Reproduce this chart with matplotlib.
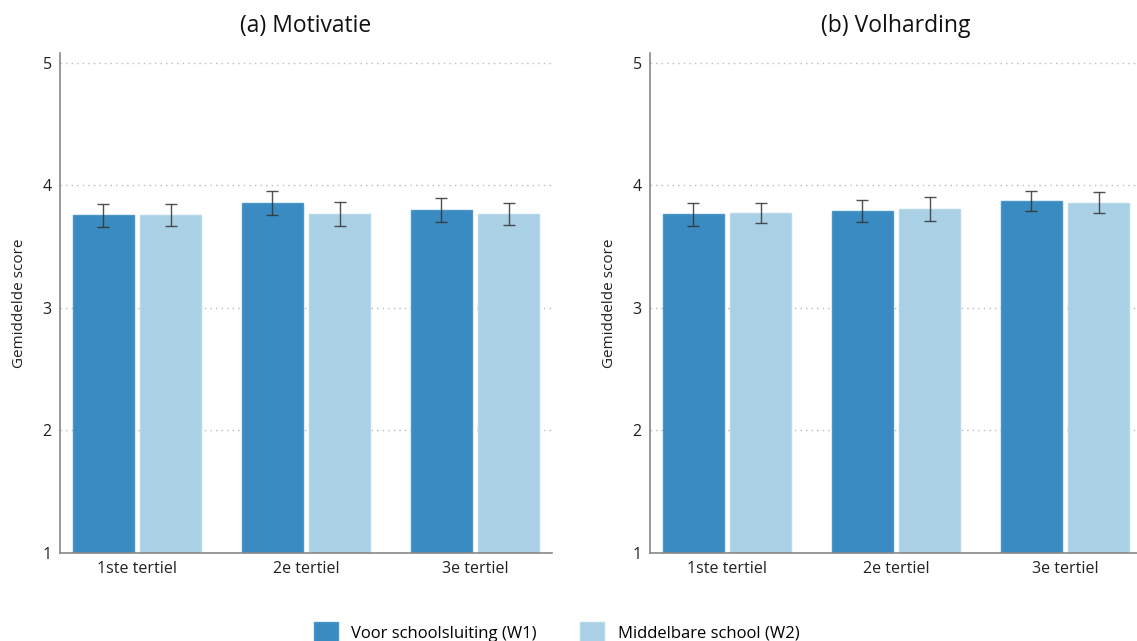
import matplotlib
matplotlib.use("Agg")
import matplotlib.pyplot as plt
import numpy as np
from matplotlib.patches import Patch

plt.rcParams['font.family'] = ['Open Sans', 'DejaVu Sans']

categories = ["1ste tertiel", "2e tertiel", "3e tertiel"]
series_names = ["Voor schoolsluiting (W1)", "Middelbare school (W2)"]
titles = ["(a) Motivatie", "(b) Volharding"]

motivatie_w1 = [3.755, 3.86, 3.80]
motivatie_w2 = [3.755, 3.77, 3.765]
motivatie_w1_err = [0.094, 0.098, 0.098]
motivatie_w2_err = [0.09, 0.098, 0.09]

volharding_w1 = [3.765, 3.79, 3.87]
volharding_w2 = [3.776, 3.81, 3.86]
volharding_w1_err = [0.094, 0.09, 0.08]
volharding_w2_err = [0.083, 0.097, 0.086]

yticks = [1, 2, 3, 4, 5]

colors = ["#3a8bc1", "#a9d0e4"]
edgecolors = ["#4a97c8", "#b7d8ea"]

fig = plt.figure(figsize=(11.37, 6.41), dpi=100)
W, H = 1137, 641
axes_px = [(60, 552), (650, 1142)]
top_px, bot_px = 53, 553

panels = [
    (motivatie_w1, motivatie_w2, motivatie_w1_err, motivatie_w2_err),
    (volharding_w1, volharding_w2, volharding_w1_err, volharding_w2_err),
]

x = np.arange(len(categories))
bw = 0.36
off = 0.2
for i, (l, r) in enumerate(axes_px):
    ax = fig.add_axes([l / W, 1 - bot_px / H, (r - l) / W, (bot_px - top_px) / H])
    w1, w2, e1, e2 = panels[i]
    ax.set_axisbelow(True)
    ax.bar(x - off, w1, width=bw, color=colors[0], edgecolor=edgecolors[0], linewidth=1, zorder=2)
    ax.bar(x + off, w2, width=bw, color=colors[1], edgecolor=edgecolors[1], linewidth=1, zorder=2)
    ax.errorbar(x - off, w1, yerr=e1, fmt='none', ecolor='#333333', elinewidth=1, capsize=4, capthick=1, zorder=3, alpha=0.85)
    ax.errorbar(x + off, w2, yerr=e2, fmt='none', ecolor='#333333', elinewidth=1, capsize=4, capthick=1, zorder=3, alpha=0.85)
    ax.set_xlim(-0.456, 2.456)
    ax.set_ylim(1, 5.08)
    ax.set_yticks(yticks)
    ax.set_yticklabels([str(t) for t in yticks])
    ax.set_xticks(x)
    ax.set_xticklabels(categories)
    ax.tick_params(axis='both', length=0, labelsize=11.5, colors='#222222', pad=6)
    ax.yaxis.grid(True, linestyle=(0, (1, 3)), color='#bbbbbb', linewidth=1)
    for s in ['top', 'right']:
        ax.spines[s].set_visible(False)
    for s in ['left', 'bottom']:
        ax.spines[s].set_color('#888888')
        ax.spines[s].set_linewidth(1.2)
    ax.set_ylabel("Gemiddelde score", fontsize=11, color='#222222', labelpad=11)
    ax.set_title(titles[i], fontsize=16.5, color='#111111', pad=15)

handles = [Patch(facecolor=colors[0], edgecolor=edgecolors[0]),
           Patch(facecolor=colors[1], edgecolor=edgecolors[1])]
fig.legend(handles, series_names, loc='lower center', bbox_to_anchor=(0.4894, -0.025), ncol=2,
           frameon=False, fontsize=12, handlelength=1.45, handleheight=1.45,
           columnspacing=2.6, handletextpad=0.8)

fig.savefig("out.png", dpi=100)
